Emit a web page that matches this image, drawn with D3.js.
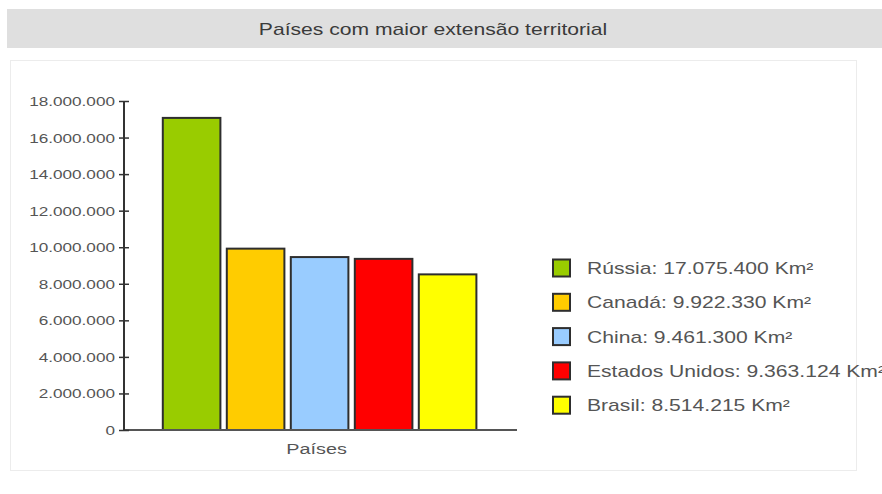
<!DOCTYPE html>
<html>
<head>
<meta charset="utf-8">
<script src="https://cdn.jsdelivr.net/npm/d3@7"></script>
<style>
  html, body { margin: 0; padding: 0; background: #fff; }
  svg { display: block; font-family: "Liberation Sans", Arial, sans-serif; }
</style>
</head>
<body>
<svg id="chart" width="882" height="494"></svg>
<script>
// ---- data ----
const titleText = "Países com maior extensão territorial";
const xAxisLabel = "Países";
const countries = ["Rússia", "Canadá", "China", "Estados Unidos", "Brasil"];
const areas = [17075400, 9922330, 9461300, 9363124, 8514215];
const colors = ["#99cc00", "#ffcc00", "#99ccff", "#ff0000", "#ffff00"];
const yTicks = [0, 2000000, 4000000, 6000000, 8000000, 10000000, 12000000, 14000000, 16000000, 18000000];
const unit = "Km²";

const ptBR = d3.formatLocale({ decimal: ",", thousands: ".", grouping: [3], currency: ["R$", ""] });
const fmt = ptBR.format(",d");
const SX = 1.32; // horizontal stretch of the original picture

const svg = d3.select("#chart");

// panel border
svg.append("rect")
  .attr("x", 10.5).attr("y", 60.5).attr("width", 846).attr("height", 410)
  .attr("fill", "none").attr("stroke", "#ececec").attr("stroke-width", 1);

// title bar
svg.append("rect")
  .attr("x", 7).attr("y", 9).attr("width", 875).attr("height", 39)
  .attr("fill", "#dfdfdf");
svg.append("text")
  .attr("transform", `translate(433,35) scale(${SX},1)`)
  .attr("text-anchor", "middle")
  .attr("font-size", 16)
  .attr("fill", "#3a3a3a")
  .text(titleText);

// scales
const y = d3.scaleLinear().domain([0, 18000000]).range([430, 101]);
const x = d3.scaleBand().domain(countries).range([159.6, 479.6]).paddingInner(0.1).paddingOuter(0.05);
const axisX = 124;

// bars
svg.append("g").selectAll("rect")
  .data(countries)
  .join("rect")
  .attr("x", d => x(d))
  .attr("y", (d, i) => y(areas[i]))
  .attr("width", x.bandwidth())
  .attr("height", (d, i) => y(0) - y(areas[i]))
  .attr("fill", (d, i) => colors[i])
  .attr("stroke", "#2e2e2e")
  .attr("stroke-width", 2);

// x axis line
svg.append("line")
  .attr("x1", axisX).attr("x2", 517)
  .attr("y1", y(0)).attr("y2", y(0))
  .attr("stroke", "#555").attr("stroke-width", 2);

svg.append("text")
  .attr("transform", `translate(${x.range()[0] + (x.range()[1] - x.range()[0]) / 2 - 3},454) scale(${SX},1)`)
  .attr("text-anchor", "middle")
  .attr("font-size", 15)
  .attr("fill", "#555")
  .text(xAxisLabel);

// y axis
const gy = svg.append("g")
  .attr("transform", `translate(${axisX},0)`)
  .call(d3.axisLeft(y).tickValues(yTicks).tickSize(5).tickPadding(9).tickFormat(d => fmt(d)));
gy.select(".domain").attr("stroke", "#333").attr("stroke-width", 2)
  .attr("d", `M0,${y(0)}V${y(18000000)}`);
gy.selectAll(".tick line").attr("x1", 5).attr("x2", -5).attr("stroke", "#333").attr("stroke-width", 1.5);
gy.selectAll(".tick text")
  .attr("font-size", 13)
  .attr("font-family", "Liberation Sans, Arial, sans-serif")
  .attr("fill", "#555")
  .attr("x", null)
  .attr("dy", null)
  .attr("transform", `translate(-9,4.5) scale(${SX},1)`);

// legend
const lg = svg.append("g").selectAll("g")
  .data(countries)
  .join("g")
  .attr("transform", (d, i) => `translate(553,${268 + i * 34.3})`);
lg.append("rect")
  .attr("x", 0).attr("y", -8.5).attr("width", 17).attr("height", 17)
  .attr("fill", (d, i) => colors[i])
  .attr("stroke", "#2e2e2e").attr("stroke-width", 2);
lg.append("text")
  .attr("transform", `translate(34,6) scale(${SX},1)`)
  .attr("font-size", 16)
  .attr("fill", "#555")
  .text((d, i) => `${d}: ${fmt(areas[i])} ${unit}`);
</script>
</body>
</html>
